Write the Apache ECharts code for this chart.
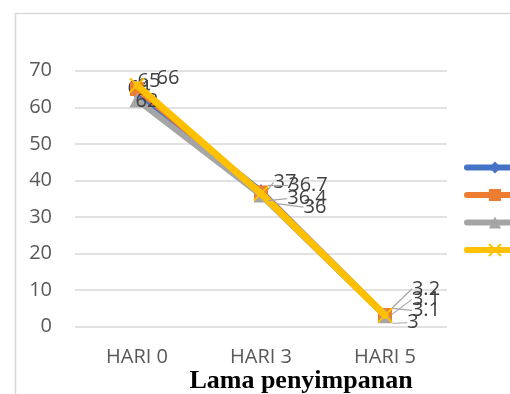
<!DOCTYPE html>
<html>
<head>
<meta charset="utf-8">
<script src="https://cdn.jsdelivr.net/npm/echarts@6/dist/echarts.min.js"></script>
<style>
  html, body { margin: 0; padding: 0; background: #fff; }
  #chart { width: 510px; height: 394px; }
</style>
</head>
<body>
<div id="chart"></div>
<script>
const categories = ["HARI 0", "HARI 3", "HARI 5"];
const seriesNames = ["Seri 1", "Seri 2", "Seri 3", "Seri 4"];
const blueValues = [64, 37, 3.1];
const orangeValues = [65, 36.7, 3.2];
const grayValues = [62, 36, 3];
const yellowValues = [66, 36.4, 3.1];
const yTicks = [0, 10, 20, 30, 40, 50, 60, 70];

// where Excel pushed each data label, relative to its point
const labelOffsets = [
  [[2, -4], [24, -9], [41, -16]],
  [[12, -8], [47, -7], [41, -26]],
  [[10, 1], [54, 12], [28, 7]],
  [[31, -7], [46, 5], [41, -5]],
];

const labelFont = { color: "#404040", fontSize: 20, fontFamily: "Open Sans" };

function makeSeries(idx, values, color, symbol, size, extra) {
  return Object.assign({
    name: seriesNames[idx],
    type: "line",
    data: values.map((v, i) => ({ value: v, labelLine: { show: i > 0 } })),
    symbol: symbol,
    symbolSize: size,
    lineStyle: { color: color, width: 6, cap: "round" },
    itemStyle: { color: color },
    label: Object.assign({ show: true, position: "top" }, labelFont),
    labelLine: { show: true, lineStyle: { color: "#A6A6A6", width: 1.2 } },
    labelLayout: function (p) {
      const off = labelOffsets[idx][p.dataIndex];
      const cx = p.rect.x + p.rect.width / 2;
      const cy = p.rect.y + p.rect.height / 2;
      return { x: cx + off[0], y: cy + off[1], align: "center", verticalAlign: "middle" };
    },
    z: 2 + idx,
  }, extra || {});
}

const chart = echarts.init(document.getElementById("chart"));
chart.setOption({
  animation: false,
  backgroundColor: "#fff",
  grid: { left: 75, right: 63, top: 70.7, bottom: 67.3 },
  legend: {
    orient: "vertical",
    left: 459,
    top: 155,
    itemWidth: 56,
    itemHeight: 15,
    itemGap: 14,
    lineStyle: { width: 6, cap: "round" },
    formatter: function () { return ""; },
    data: seriesNames,
  },
  xAxis: {
    type: "category",
    data: categories,
    axisLine: { show: false },
    axisTick: { show: false },
    axisLabel: { color: "#595959", fontSize: 20, fontFamily: "Open Sans", margin: 21 },
  },
  yAxis: {
    type: "value",
    min: yTicks[0],
    max: yTicks[yTicks.length - 1],
    interval: 10,
    axisLine: { show: false },
    axisTick: { show: false },
    axisLabel: { color: "#595959", fontSize: 20, fontFamily: "Open Sans", margin: 23 },
    splitLine: { lineStyle: { color: "#D9D9D9", width: 1.5 } },
  },
  graphic: [
    {
      type: "rect",
      shape: { x: 15.5, y: 13.5, width: 600, height: 500 },
      style: { fill: "none", stroke: "#D9D9D9", lineWidth: 1.5 },
      silent: true,
    },
    {
      type: "text",
      x: 301,
      y: 381,
      style: {
        text: "Lama penyimpanan",
        font: "bold 26px 'Liberation Serif', 'DejaVu Serif', serif",
        fill: "#000",
        align: "center",
        verticalAlign: "middle",
      },
    },
  ],
  series: [
    makeSeries(0, blueValues, "#4472C4", "diamond", [11, 15]),
    makeSeries(1, orangeValues, "#ED7D31", "rect", 14),
    makeSeries(2, grayValues, "#A5A5A5", "triangle", 15),
    makeSeries(3, yellowValues, "#FFC000", "path://M0,0L10,10M10,0L0,10", 14, {
      itemStyle: { color: "#FFC000", borderColor: "#FFC000", borderWidth: 2 },
      lineStyle: { color: "#FFC000", width: 7, cap: "round" },
    }),
  ],
});
</script>
</body>
</html>
